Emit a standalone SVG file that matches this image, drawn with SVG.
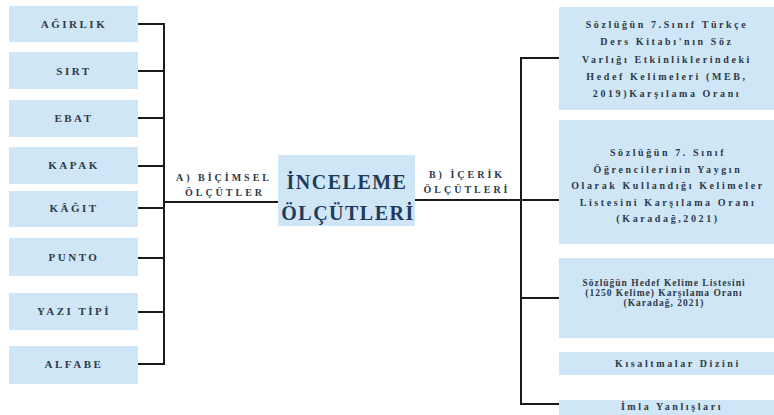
<svg xmlns="http://www.w3.org/2000/svg" width="774" height="415" viewBox="0 0 774 415">
<style>
.box{fill:#cfe6f7}
.lt{font-family:"Liberation Serif","Times New Roman",serif;font-weight:bold;font-size:11px;letter-spacing:2.5px;fill:#2e3a48;text-anchor:middle}
.rt{font-family:"Liberation Serif","Times New Roman",serif;font-weight:bold;font-size:10px;letter-spacing:2.6px;fill:#2e3a48;text-anchor:middle}
.rs{font-family:"Liberation Serif","Times New Roman",serif;font-weight:bold;font-size:9.5px;letter-spacing:1px;fill:#2e3a48;text-anchor:middle}
.ct{font-family:"Liberation Serif","Times New Roman",serif;font-weight:bold;font-size:20px;letter-spacing:1.5px;fill:#1f3b5c;text-anchor:middle}
.lab{font-family:"Liberation Serif","Times New Roman",serif;font-weight:bold;font-size:10px;letter-spacing:3px;fill:#2e3a48;text-anchor:middle}
.ln{stroke:#1a1a1a;stroke-width:2;fill:none}
</style>
<rect width="774" height="415" fill="#ffffff"/>
<g id="connectors">
<path class="ln" d="M138 24H164M138 71H164M138 118H164M138 166H164M138 208H164M138 258H164M138 312H164M138 364H164M164 23V365M164 202H278"/>
<path class="ln" d="M415 200H521M521 57V405M521 58H559M521 200H559M521 298H559M521 404H559"/>
</g>
<g id="label-a"><text class="lab" x="224" y="181">A) BİÇİMSEL</text><text class="lab" x="225" y="196">ÖLÇÜTLER</text></g>
<g id="label-b"><text class="lab" x="467" y="178">B) İÇERİK</text><text class="lab" x="467" y="193">ÖLÇÜTLERİ</text></g>
<g id="n-center"><rect class="box" x="278" y="155" width="137" height="71"/><text class="ct" x="347" y="189">İNCELEME</text><text class="ct" x="348" y="220">ÖLÇÜTLERİ</text></g>
<g id="n-agirlik"><rect class="box" x="9" y="6" width="129" height="36"/><text class="lt" x="74" y="28">AĞIRLIK</text></g>
<g id="n-sirt"><rect class="box" x="9" y="52" width="129" height="37"/><text class="lt" x="74" y="75">SIRT</text></g>
<g id="n-ebat"><rect class="box" x="9" y="100" width="129" height="37"/><text class="lt" x="74" y="122">EBAT</text></g>
<g id="n-kapak"><rect class="box" x="9" y="147" width="129" height="37"/><text class="lt" x="74" y="169">KAPAK</text></g>
<g id="n-kagit"><rect class="box" x="9" y="191" width="129" height="36"/><text class="lt" x="74" y="212">KÂĞIT</text></g>
<g id="n-punto"><rect class="box" x="9" y="238" width="129" height="38"/><text class="lt" x="74" y="261">PUNTO</text></g>
<g id="n-yazi"><rect class="box" x="9" y="293" width="129" height="37"/><text class="lt" x="74" y="315">YAZI TİPİ</text></g>
<g id="n-alfabe"><rect class="box" x="9" y="346" width="129" height="38"/><text class="lt" x="74" y="368">ALFABE</text></g>
<g id="n-meb"><rect class="box" x="559" y="7" width="215" height="103"/>
<text class="rt" x="667" y="28">Sözlüğün 7.Sınıf Türkçe</text>
<text class="rt" x="667" y="45">Ders Kitabı'nın Söz</text>
<text class="rt" x="667" y="63">Varlığı Etkinliklerindeki</text>
<text class="rt" x="667" y="80">Hedef Kelimeleri (MEB,</text>
<text class="rt" x="667" y="97">2019)Karşılama Oranı</text></g>
<g id="n-ogrenci"><rect class="box" x="559" y="120" width="215" height="124"/>
<text class="rt" x="668" y="156">Sözlüğün 7. Sınıf</text>
<text class="rt" x="668" y="173">Öğrencilerinin Yaygın</text>
<text class="rt" x="668" y="189">Olarak Kullandığı Kelimeler</text>
<text class="rt" x="668" y="206">Listesini Karşılama Oranı</text>
<text class="rt" x="668" y="222">(Karadağ,2021)</text></g>
<g id="n-hedef"><rect class="box" x="559" y="258" width="215" height="80"/>
<text class="rs" x="664" y="286">Sözlüğün Hedef Kelime Listesini</text>
<text class="rs" x="664" y="296">(1250 Kelime) Karşılama Oranı</text>
<text class="rs" x="664" y="306">(Karadağ, 2021)</text></g>
<g id="n-kisaltma"><rect class="box" x="559" y="352" width="215" height="23"/><text class="rt" x="678" y="367">Kısaltmalar Dizini</text></g>
<g id="n-imla"><rect class="box" x="559" y="400" width="215" height="15"/><text class="rt" x="672" y="410">İmla Yanlışları</text></g>
</svg>
